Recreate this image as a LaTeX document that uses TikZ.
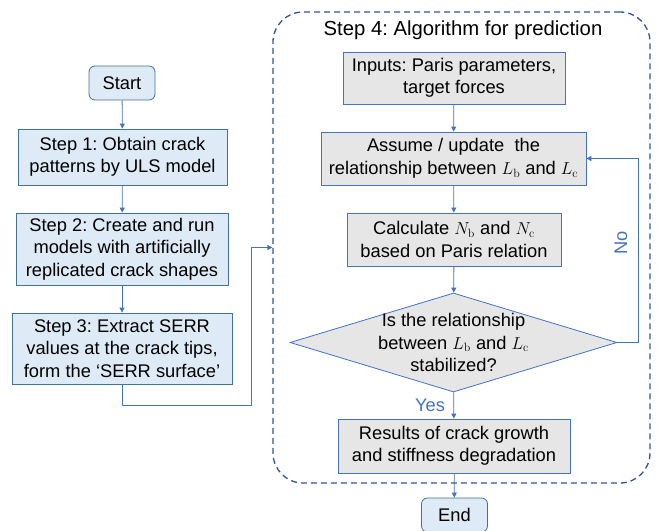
\documentclass[tikz,border=0pt]{standalone}
\usepackage[no-math]{fontspec}
\setmainfont{Liberation Sans}
\usepackage{tikz}
\usetikzlibrary{arrows.meta, positioning, shapes.geometric, calc}
\definecolor{stepfill}{HTML}{DEEBF7}
\definecolor{stepedge}{HTML}{41719C}
\definecolor{algfill}{HTML}{E7E6E6}
\definecolor{linkblue}{HTML}{4472C4}
\definecolor{framedark}{HTML}{2F5597}
\newcommand{\Lb}{$L_{\mathrm{b}}$}
\newcommand{\Lc}{$L_{\mathrm{c}}$}
\frenchspacing

\begin{document}
\begin{tikzpicture}[
  x=1pt, y=-1pt,
  every node/.style={font=\fontsize{18.3}{22.5}\selectfont, align=center},
  term/.style={draw=stepedge, thick, fill=stepfill, rounded corners=6pt,
               minimum width=66pt, minimum height=34pt, inner sep=0pt},
  stepbox/.style={draw=stepedge, thick, fill=stepfill,
                  minimum height=56pt, inner sep=0pt},
  algbox/.style={draw=linkblue, thick, fill=algfill,
                 minimum height=53pt, inner sep=0pt},
  decide/.style={draw=linkblue, thick, fill=algfill, diamond,
                 minimum width=327pt, minimum height=99pt, inner sep=0pt},
  loopframe/.style={draw=framedark, dashed, line width=1.3pt,
                    rounded corners=30pt, dash pattern=on 6pt off 4pt},
  arr/.style={draw=linkblue, line width=0.8pt,
              -{Triangle[length=5pt,width=5pt]}},
  tag/.style={text=linkblue}
]
  \useasboundingbox (0,0) rectangle (661,530);

  % left column
  \node[term] (start) at (122,83) {Start};
  \node[stepbox, minimum width=209pt] (s1) at (122.5,157)
    {Step 1: Obtain crack\\patterns by ULS model};
  \node[stepbox, minimum width=212pt, minimum height=72pt] (s2) at (122,249)
    {Step 2: Create and run\\models with artificially\\replicated crack shapes};
  \node[stepbox, minimum width=220pt, minimum height=71pt] (s3) at (122,348.5)
    {Step 3: Extract SERR\\values at the crack tips,\\form the `SERR surface'};
  \draw[arr] (start) -- (s1);
  \draw[arr] (s1) -- (s2);
  \draw[arr] (s2) -- (s3);

  % step 4 frame
  \node[loopframe, minimum width=377pt, minimum height=471pt] (frame)
    at (461.5,247.5) {};
  \node[font=\fontsize{20.3}{24}\selectfont] (title) at (463,30)
    {Step 4: Algorithm for prediction};
  \draw[arr] (s3.south) -- ++(0,21) -| ([xshift=-21pt]frame.west) -- (frame.west);

  \node[algbox, minimum width=222pt, minimum height=52pt] (inputs) at (454,78)
    {Inputs: Paris parameters,\\target forces};
  \node[algbox, minimum width=265pt] (assume) at (453.5,158.5)
    {Assume / update~~the\\relationship between \Lb{} and \Lc};
  \node[algbox, minimum width=214pt] (calc) at (454,239.5)
    {Calculate $N_{\mathrm{b}}$ and $N_{\mathrm{c}}$\\based on Paris relation};
  \node[decide] (dec) at (453.5,342.5) {};
  \node (dectext) at (dec.center)
    {Is the relationship\\between \Lb{} and \Lc\\stabilized?};
  \node[algbox, minimum width=232pt, minimum height=54pt] (res) at (454,446)
    {Results of crack growth\\and stiffness degradation};
  \node[term] (end) at (454.5,515) {End};

  \draw[arr] (inputs) -- (assume);
  \draw[arr] (assume) -- (calc);
  \draw[arr] (calc) -- (dec);
  \draw[arr] (dec) -- (res);
  \draw[arr] (res) -- (end);
  \draw[arr] (dec.east) -- ++(21,0) |- (assume.east);
  \node[tag, rotate=90] (no) at (621,243) {No};
  \node[tag] (yes) at (430,405) {Yes};
\end{tikzpicture}
\end{document}
